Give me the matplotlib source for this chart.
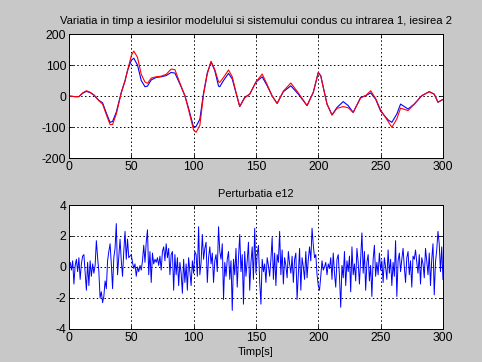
import matplotlib
matplotlib.use("Agg")
import matplotlib.pyplot as plt
import numpy as np

# model / system outputs, input 1 -> output 2
t_out = [0, 5, 8, 11, 14, 17, 20, 24, 27, 30, 33, 35, 38, 42, 45, 47, 50, 52, 55, 58,
         61, 63, 66, 70, 74, 78, 82, 85, 89, 93, 96, 100, 102, 105, 108, 111, 114, 117, 120, 121,
         124, 128, 131, 134, 137, 141, 145, 150, 155, 159, 163, 167, 172, 178, 184, 191, 196, 200, 202, 204,
         207, 211, 215, 220, 224, 228, 234, 238, 242, 246, 250, 256, 259, 263, 266, 272, 277, 283, 289, 293,
         296, 300]
y_model = [0, -2, -2, 9, 15, 11, 3, -14, -22, -55, -85, -82, -52, 12, 50, 82, 115, 122, 100, 50,
           30, 32, 52, 60, 62, 66, 76, 74, 39, 1, -40, -101, -98, -75, 10, 75, 110, 82, 32, 30,
           50, 73, 55, 10, -34, -4, 6, 45, 62, 33, 0, -24, 14, 33, 6, -31, 12, 76, 65, 28,
           -26, -61, -37, -18, -31, -53, -4, 1, 10, -10, -49, -77, -85, -58, -26, -42, -26, 1, 14, 6,
           -20, -11]
y_sistem = [0, -2, -2, 10, 17, 12, 4, -15, -26, -60, -92, -92, -58, 10, 48, 82, 130, 145, 125, 70,
            45, 41, 58, 62, 64, 70, 87, 85, 42, 1, -45, -110, -117, -95, 5, 72, 112, 85, 46, 44,
            60, 84, 62, 12, -34, -6, 6, 45, 71, 37, 0, -24, 16, 42, 10, -31, 12, 76, 65, 28,
            -26, -61, -40, -34, -38, -53, -6, 1, 17, -8, -45, -82, -101, -74, -39, -47, -26, 1, 14, 6,
            -20, -11]

# perturbation e12, one sample per second
e12 = [0.0, 0.3, -0.2, 0.4, -1.1, 0.1, 0.5, -0.3, 0.6, -0.8,
       0.2, 0.7, 0.8, -0.4, -1.5, 0.3, -1.2, 0.4, -0.6, 0.2,
       -0.4, 0.1, 1.7, 0.6, -0.3, -2.0, -1.6, -2.3, -1.9, -0.9,
       -1.4, 0.4, 1.0, 1.5, 0.2, -1.4, 0.6, 1.2, 2.8, -0.5,
       0.7, 1.8, 0.4, -0.6, 1.0, 2.3, 0.5, 1.8, 0.6, 0.7,
       0.8, 0.3, -0.1, 0.2, -0.6, 0.0, -0.3, 0.1, -0.2, 0.4,
       1.4, 0.3, 1.6, 2.4, -0.5, 1.0, -1.0, 0.9, 0.2, 0.5,
       0.3, 0.6, 0.1, 0.7, -0.2, 1.0, 1.3, 0.4, 1.5, 0.6,
       1.2, -0.5, 0.8, 1.0, -1.5, 0.8, -0.5, 0.6, -1.2, 0.3,
       -0.4, -1.7, 0.5, -1.0, 0.2, -1.5, 0.6, -0.3, -1.2, 0.4,
       -0.4, 1.0, 0.8, -0.6, 2.6, -0.5, 0.3, 2.1, 0.5, 1.2,
       1.6, -1.0, 0.6, 1.3, 0.2, 0.9, -1.0, 0.4, 0.8, -0.3,
       2.6, 1.0, 0.5, 1.5, -2.1, 0.3, -0.6, 0.5, 1.0, -0.8,
       0.4, -2.8, 0.5, -0.5, 1.2, -1.3, 0.6, 2.1, -0.3, 0.8,
       -2.4, 1.0, -0.6, 0.4, 1.6, -1.5, 0.3, 1.3, -0.8, 2.5,
       -0.4, 0.8, 1.4, -0.9, -2.4, 0.5, -0.3, 0.2, -1.0, 0.6,
       0.1, -0.6, 0.5, 1.9, -0.8, 0.9, -1.2, 0.8, 0.3, 2.3,
       -0.5, 1.1, -1.1, 0.6, 0.1, -0.7, 1.0, 0.2, -0.4, 0.7,
       -1.0, 0.5, 0.9, -2.1, -0.4, 1.2, -1.5, 0.6, 0.0, -0.8,
       1.0, -0.7, 0.5, 1.3, 0.4, 2.5, 1.4, 0.6, 0.8, -0.5,
       -1.2, -1.5, -0.6, 0.4, -0.2, 0.0, 0.3, -0.5, 0.2, -0.1,
       0.6, -0.8, 0.9, -0.4, -1.3, 0.5, 0.8, -0.6, -2.6, 0.1,
       -0.7, 1.0, -1.2, 0.4, -0.3, 0.7, -1.6, 1.3, -0.5, 0.2,
       -0.9, 1.2, 0.3, -1.1, 0.6, 2.2, -0.4, 1.0, -1.5, 0.3,
       0.8, -0.9, 0.1, -1.9, 0.5, 1.4, -0.6, 0.3, -0.5, 0.9,
       -0.2, 0.4, -1.0, 0.6, 0.0, -0.8, 1.1, -0.4, 0.5, -1.2,
       0.3, -0.6, 1.7, -1.9, 0.4, 0.9, -0.3, 0.5, 1.2, 0.0,
       -1.0, 0.6, 1.0, -0.5, 0.4, -1.3, 0.7, 0.5, 1.1, 0.3,
       -0.4, 0.8, -1.1, 0.6, 0.2, -0.7, 1.2, 0.4, -0.5, 0.9,
       -1.2, 0.5, 1.5, -1.8, 0.3, 1.1, 2.3, 1.5, -0.3, 1.3,
       -0.8]

plt.rcParams['font.family'] = ['Liberation Sans', 'DejaVu Sans']
plt.rcParams['font.size'] = 8.7
plt.rcParams['axes.unicode_minus'] = False

fig = plt.figure(figsize=(4.82, 3.62), dpi=100, facecolor='#c8c8c8')
ax1 = fig.add_axes([0.143, 0.5635, 0.776, 0.3425])
ax2 = fig.add_axes([0.143, 0.0912, 0.776, 0.3425])

def matlab_axes(ax):
    ax.set_facecolor('white')
    ax.grid(True, color='black', linestyle=(0, (1.5, 2.5)), linewidth=0.7)
    ax.tick_params(direction='in', length=3, width=0.6, top=True, right=True, pad=2)
    for s in ax.spines.values():
        s.set_linewidth(0.7)

ax1.plot(t_out, y_model, color='#0000ff', linewidth=0.8)
ax1.plot(t_out, y_sistem, color='#ff0000', linewidth=0.8)
ax1.set_xlim(0, 300)
ax1.set_ylim(-200, 200)
ax1.set_xticks([0, 50, 100, 150, 200, 250, 300])
ax1.set_yticks([-200, -100, 0, 100, 200])
ax1.set_title("Variatia in timp a iesirilor modelului si sistemului condus cu intrarea 1, iesirea 2",
              fontsize=8.1, pad=7)
matlab_axes(ax1)

ax2.plot(np.arange(len(e12)), e12, color='#0000ff', linewidth=0.7)
ax2.set_xlim(0, 300)
ax2.set_ylim(-4, 4)
ax2.set_xticks([0, 50, 100, 150, 200, 250, 300])
ax2.set_yticks([-4, -2, 0, 2, 4])
ax2.set_title("Perturbatia e12", fontsize=7.9, pad=6)
ax2.set_xlabel("Timp[s]", fontsize=7.9, labelpad=2)
matlab_axes(ax2)

fig.savefig("out.png", dpi=100, facecolor=fig.get_facecolor())
